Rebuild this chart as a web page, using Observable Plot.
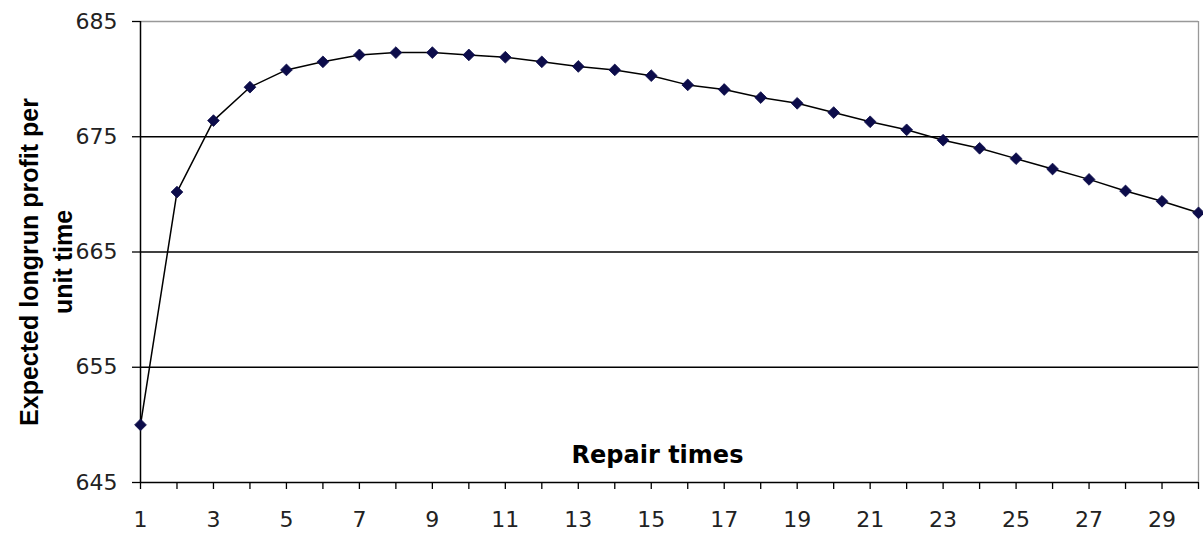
<!DOCTYPE html>
<html><head><meta charset="utf-8">
<script src="https://cdn.jsdelivr.net/npm/d3@7"></script>
<script src="https://cdn.jsdelivr.net/npm/@observablehq/plot@0.6"></script>
<style>body{margin:0;background:#fff}</style>
</head><body><div id="chart"></div>
<script>
const repairTimes = [1,2,3,4,5,6,7,8,9,10,11,12,13,14,15,16,17,18,19,20,21,22,23,24,25,26,27,28,29,30];
const profit = [650.0,670.2,676.4,679.3,680.8,681.5,682.1,682.3,682.3,682.1,681.9,681.5,681.1,680.8,680.3,679.5,679.1,678.4,677.9,677.1,676.3,675.6,674.7,674.0,673.1,672.2,671.3,670.3,669.4,668.4];
const yTicks = [645,655,665,675,685];
const xTitle = "Repair times";
const yTitle = "Expected longrun profit per\nunit time";
const data = repairTimes.map((t, i) => ({t, p: profit[i]}));

const chart = Plot.plot({
  width: 1203, height: 540,
  marginLeft: 140, marginRight: 5, marginTop: 21, marginBottom: 58,
  style: {fontFamily: "DejaVu Sans", fontSize: "22px", color: "#222", background: "#fff"},
  x: {domain: [1, 30]},
  y: {domain: [645, 685]},
  marks: [
    Plot.ruleY(yTicks.slice(1, -1), {stroke: "#000", strokeWidth: 1.3}),
    Plot.ruleY([685], {stroke: "#999", strokeWidth: 1.3}),
    Plot.ruleX([30], {stroke: "#999", strokeWidth: 1.3}),
    Plot.axisY({ticks: yTicks, tickSize: 8, tickPadding: 15, label: null, fontSize: 22, stroke: "#000", strokeWidth: 1.3}),
    Plot.axisX({ticks: repairTimes, tickSize: 7, tickPadding: 22, label: null, fontSize: 22, stroke: "#000", strokeWidth: 1.3,
      tickFormat: d => (d % 2 ? String(d) : "")}),
    Plot.ruleX([1], {stroke: "#000", strokeWidth: 1.5}),
    Plot.ruleY([645], {stroke: "#000", strokeWidth: 1.5}),
    Plot.line(data, {x: "t", y: "p", stroke: "#000", strokeWidth: 1.5}),
    Plot.dot(data, {x: "t", y: "p", symbol: "diamond2", r: 5.3, fill: "#0c0c4a", stroke: "#0c0c4a", strokeWidth: 0.8}),
    Plot.text([xTitle], {text: d => d, frameAnchor: "bottom", lineAnchor: "middle", textAnchor: "middle", dx: -12, dy: -27,
      fontWeight: "bold", fontSize: 24, fill: "#000"}),
    Plot.text([yTitle], {text: d => d, frameAnchor: "left", textAnchor: "middle", lineAnchor: "middle", dx: -96, dy: 10,
      rotate: -90, lineHeight: 1.36, fontWeight: "bold", fontSize: 25, fontFamily: "Liberation Sans", fill: "#000"})
  ]
});
document.getElementById("chart").appendChild(chart);
</script>
</body></html>
